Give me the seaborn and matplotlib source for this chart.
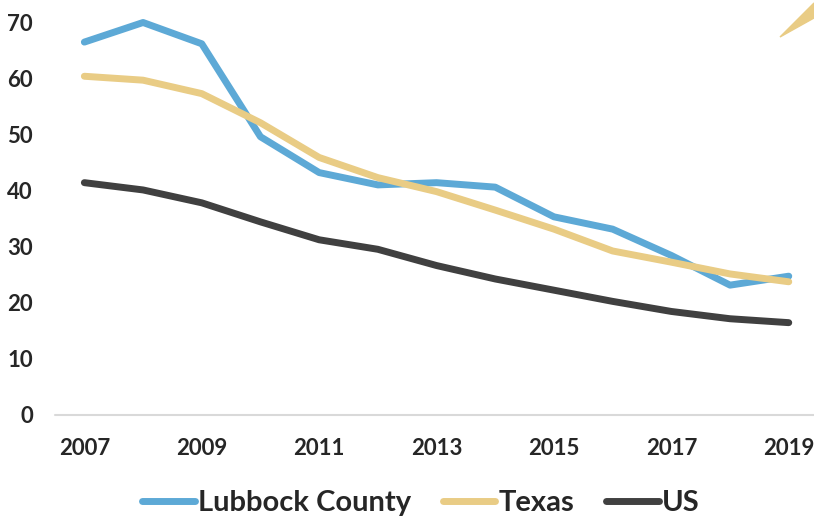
import pandas as pd
import numpy as np
from matplotlib import pyplot as plt
from matplotlib.patches import Polygon
import seaborn as sns

years = list(range(2007, 2020))
lubbock = [66.5, 70.0, 66.2, 49.6, 43.2, 41.0, 41.4, 40.6, 35.3, 33.1, 28.4, 23.1, 24.7]
texas = [60.4, 59.7, 57.3, 52.1, 45.9, 42.3, 39.8, 36.5, 33.1, 29.2, 27.2, 25.1, 23.7]
us = [41.4, 40.1, 37.8, 34.4, 31.2, 29.5, 26.6, 24.2, 22.2, 20.2, 18.4, 17.1, 16.4]
series_names = ['Lubbock County', 'Texas', 'US']
x_ticks = [2007, 2009, 2011, 2013, 2015, 2017, 2019]
y_ticks = [0, 10, 20, 30, 40, 50, 60, 70]

df = pd.DataFrame({'year': years * 3,
                   'value': lubbock + texas + us,
                   'series': [series_names[0]] * 13 + [series_names[1]] * 13 + [series_names[2]] * 13})

sns.set_style('white')
plt.rcParams['font.family'] = ['Lato', 'DejaVu Sans']
plt.rcParams['font.weight'] = 'bold'

palette = {'Lubbock County': '#5DA9D6', 'Texas': '#E9CC85', 'US': '#404040'}

fig = plt.figure(figsize=(8.14, 5.19), dpi=100)
ax = fig.add_axes([55 / 814, 104.5 / 519, 1 - 55 / 814, 72 * 5.6 / 519])

sns.lineplot(data=df, x='year', y='value', hue='series', palette=palette,
             linewidth=5, ax=ax, legend=False)

ax.set_xlim(2006.5, 2019.43)
ax.set_ylim(0, 72)
ax.set_xticks(x_ticks)
ax.set_yticks(y_ticks)
ax.set_xticklabels([str(t) for t in x_ticks], fontsize=16, fontweight='bold')
ax.set_yticklabels([str(t) for t in y_ticks], fontsize=16, fontweight='bold')
ax.tick_params(axis='x', length=0, pad=17)
ax.tick_params(axis='y', length=0, pad=16)
ax.set_xlabel('')
ax.set_ylabel('')
for s in ax.spines.values():
    s.set_visible(False)
ax.axhline(0, color='#D9D9D9', linewidth=1.5, zorder=0, clip_on=False)

handles = [plt.Line2D([], [], color=palette[n], linewidth=5, solid_capstyle='round') for n in series_names]
fig.legend(handles, series_names, loc='center', bbox_to_anchor=(0.517, 0.03),
           ncol=3, frameon=False, borderpad=0, handlelength=1.8, handletextpad=0.1,
           columnspacing=1.1, prop={'size': 21, 'weight': 'bold'})

# decorative corner shape at top right
tri = Polygon([(780 / 814, 1 - 37 / 519), (1.0, 1 - 3 / 519), (1.0, 1 - 18 / 519)],
              closed=True, transform=fig.transFigure, color='#E9CC85', clip_on=False)
fig.patches.append(tri)

fig.savefig('out.png', dpi=100)
